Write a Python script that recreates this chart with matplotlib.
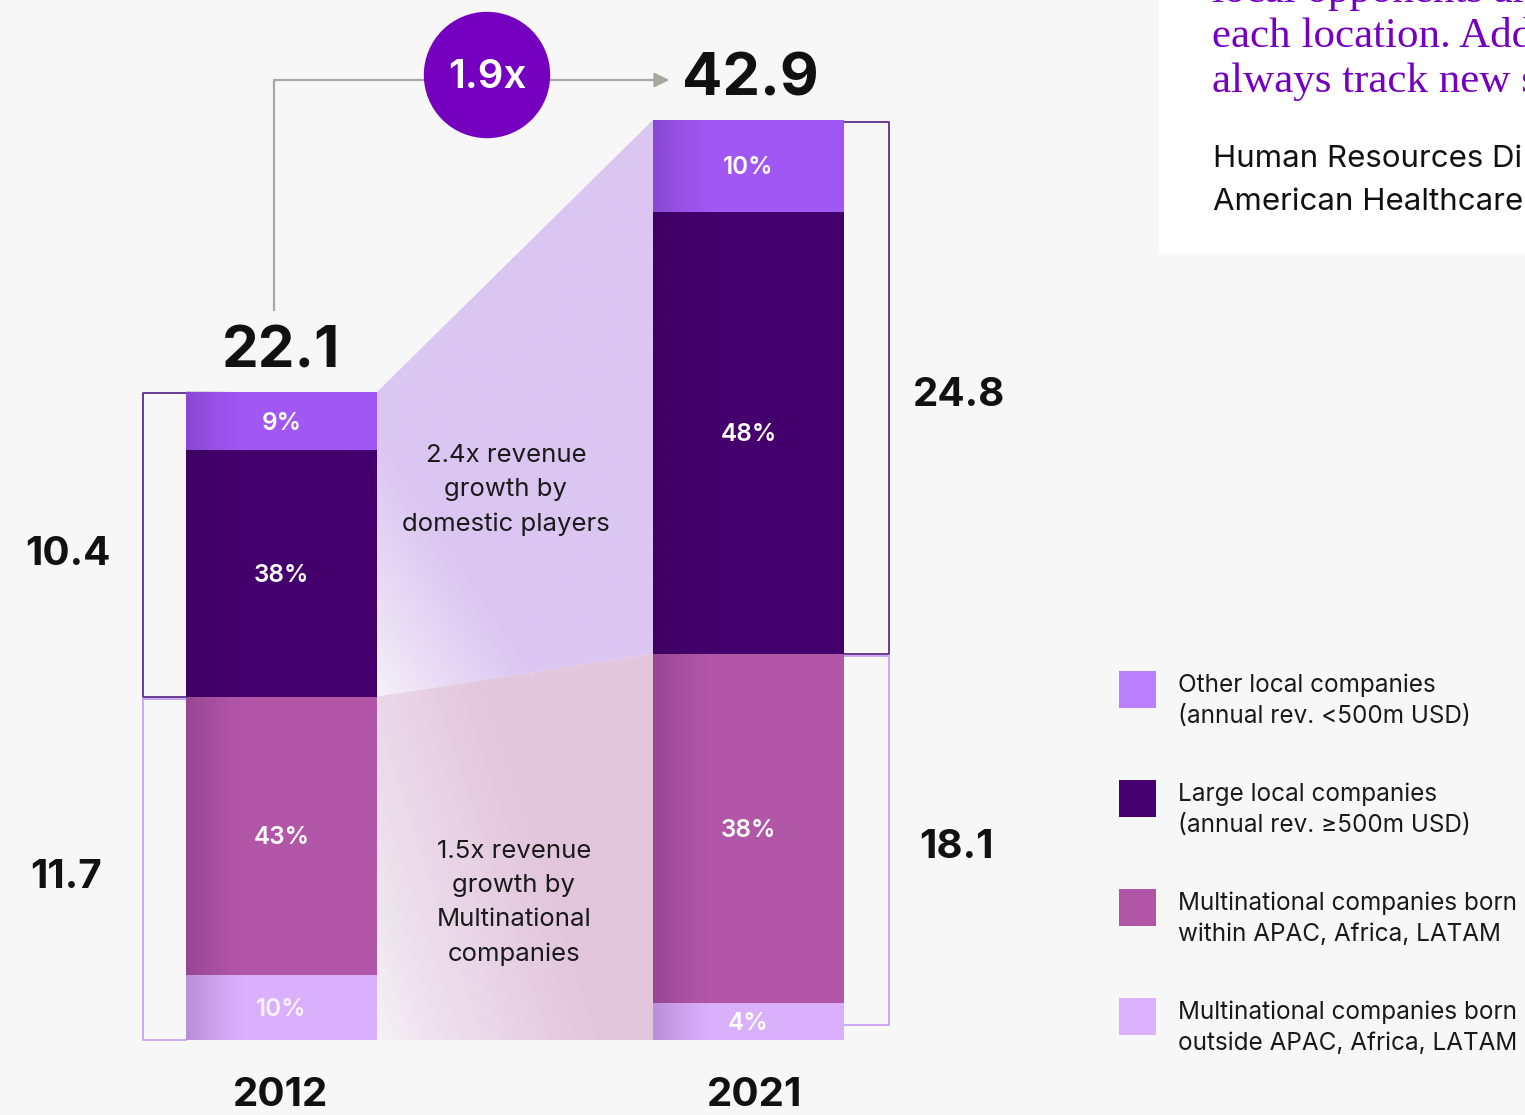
import numpy as np
import matplotlib.pyplot as plt
from matplotlib.patches import Polygon, Circle, Rectangle
from matplotlib.colors import to_rgb

# Data
years = ['2012', '2021']
totals = [22.1, 42.9]
growth_label = '1.9x'
segments = ['Multinational companies born\noutside APAC, Africa, LATAM',
            'Multinational companies born\nwithin APAC, Africa, LATAM',
            'Large local companies\n(annual rev. ≥500m USD)',
            'Other local companies\n(annual rev. <500m USD)']
shares_2012 = [10, 43, 38, 9]
shares_2021 = [4, 38, 48, 10]
domestic = [10.4, 24.8]
multinational = [11.7, 18.1]
band_notes = ['2.4x revenue\ngrowth by\ndomestic players',
              '1.5x revenue\ngrowth by\nMultinational\ncompanies']
quote_lines = ['local opponents are', 'each location. Add', 'always track new s']
source_lines = ['Human Resources Di', 'American Healthcare']

# Style / layout
bar_colors = ['#DAB0FC', '#B256A8', '#44006C', '#A157F4']
legend_colors = ['#DCB1FD', '#B155A6', '#460070', '#BB80FE']
bg = '#F7F7F7'
FONT = ['Inter', 'DejaVu Sans']
BASE = 1040
BAR_W = 191
BAR_X = [186, 653]          # left edges in px
BAR_H = [648, 920]          # drawn heights in px (source is not to scale)

fig = plt.figure(figsize=(15.25, 11.15), dpi=100, facecolor=bg)
ax = fig.add_axes([0, 0, 1, 1])
ax.set_xlim(0, 1525)
ax.set_ylim(1115, 0)
ax.axis('off')
ax.set_facecolor(bg)

# stacked bars (pixel tops/bottoms from shares)
edges = []
for i, shares in enumerate([shares_2012, shares_2021]):
    cum = np.concatenate([[0], np.cumsum(shares)]) / 100 * BAR_H[i]
    ys = BASE - cum
    edges.append(ys)
    x0 = BAR_X[i]
    for j, s in enumerate(shares):
        ax.bar(x0, -(cum[j + 1] - cum[j]), bottom=ys[j], width=BAR_W,
               align='edge', color=bar_colors[j], zorder=3)
        # darker left edge gradient
        grad = np.zeros((1, 60, 4))
        grad[..., :3] = to_rgb('#2A0040')
        grad[..., 3] = np.linspace(0.28, 0, 60) ** 1.3
        ax.imshow(grad, extent=[x0, x0 + 60, ys[j], ys[j + 1]],
                  aspect='auto', zorder=4, interpolation='bilinear')
        col = 'white' if not (i == 0 and j == 0) else '#FAF3FF'
        ax.text(x0 + BAR_W / 2, (ys[j] + ys[j + 1]) / 2 + 2, f'{s}%', color=col,
                ha='center', va='center', fontsize=17.5, fontweight='semibold',
                family=FONT, zorder=5)

e12, e21 = edges
xr, xl = BAR_X[0] + BAR_W, BAR_X[1]

# gradient bands between bars
def band(poly, color, tfunc, z=1):
    xs = np.linspace(xr, xl, 200)
    ys = np.linspace(min(p[1] for p in poly), max(p[1] for p in poly), 300)
    X, Y = np.meshgrid(xs, ys)
    t = np.clip(tfunc(X, Y), 0, 1)
    c = np.array(to_rgb(color))
    w = np.array(to_rgb('#F7F4F8'))
    img = w * (1 - t[..., None]) + c * t[..., None]
    im = ax.imshow(img, extent=[xr, xl, ys[-1], ys[0]], aspect='auto',
                   origin='upper', zorder=z, interpolation='bilinear')
    p = Polygon(poly, closed=True, facecolor='none', edgecolor='none')
    ax.add_patch(p)
    im.set_clip_path(p)

up = [(xr, e12[4]), (xl, e21[4]), (xl, e21[2]), (xr, e12[2])]
band(up, '#DBC6F2',
     lambda X, Y: ((X - xr) / 170 + (e12[2] - Y) / 260) ** 0.8)
lo = [(xr, e12[2]), (xl, e21[2]), (xl, BASE), (xr, BASE)]
band(lo, '#E2C6DC',
     lambda X, Y: ((X - xr) / 230 + (BASE - Y) / 700) ** 0.7)

ax.text(506, 490, band_notes[0], ha='center', va='center', fontsize=18.5,
        family=FONT, color='#1A1A1A', linespacing=1.62, zorder=5)
ax.text(514, 903, band_notes[1], ha='center', va='center', fontsize=18.5,
        family=FONT, color='#1A1A1A', linespacing=1.62, zorder=5)

# brackets
dark_b, light_b = '#5E2D8C', '#C9A0F5'
lx = 143
ax.plot([BAR_X[0], lx, lx, BAR_X[0]], [e12[4] + 1, e12[4] + 1, e12[2], e12[2]],
        color=dark_b, lw=1.3, zorder=2)
ax.plot([BAR_X[0], lx, lx, BAR_X[0]], [e12[2] + 2, e12[2] + 2, BASE, BASE],
        color=light_b, lw=1.3, zorder=2)
rx = 889
ax.plot([xl + BAR_W, rx, rx, xl + BAR_W], [e21[4] + 2, e21[4] + 2, e21[2], e21[2]],
        color=dark_b, lw=1.3, zorder=2)
ax.plot([xl + BAR_W, rx, rx, xl + BAR_W], [e21[2] + 2, e21[2] + 2, BASE - 15, BASE - 15],
        color=light_b, lw=1.3, zorder=2)

big = dict(ha='center', va='baseline', fontweight='bold', family=FONT,
           color='#111111', zorder=5)
ax.text(68, 565, f'{domestic[0]}', fontsize=29, **big)
ax.text(66, 888, f'{multinational[0]}', fontsize=29, **big)
ax.text(959, 406, f'{domestic[1]}', fontsize=29, **big)
ax.text(956, 858, f'{multinational[1]}', fontsize=29, **big)

# totals and growth arrow
ax.text(281, 367, f'{totals[0]}', fontsize=42, **big)
ax.text(750, 95, f'{totals[1]}', fontsize=43, **big)
gray = '#A8A8A0'
ax.plot([274, 274, 430], [310, 80, 80], color=gray, lw=1.6, zorder=2)
ax.annotate('', xy=(672, 80), xytext=(545, 80),
            arrowprops=dict(arrowstyle='-|>', color=gray, lw=1.6,
                            mutation_scale=22), zorder=2)
ax.add_patch(Circle((487, 75), 62.5, color='#7500C0', zorder=4))
ax.text(487, 78, growth_label, ha='center', va='center', fontsize=29,
        fontweight='semibold', family=FONT, color='white', zorder=5)

# year labels (cropped at the bottom in the source; keep them just inside)
yr = dict(big, va='bottom')
ax.text(281, 1114, years[0], fontsize=29, **yr)
ax.text(755, 1114, years[1], fontsize=29, **yr)

# quote box (cropped)
ax.add_patch(Rectangle((1159, -5), 400, 259, facecolor='white',
                       edgecolor='none', zorder=1))
for k, line in enumerate(quote_lines):
    ax.text(1212, 2 + 45 * k, line, ha='left', va='baseline', fontsize=31,
            family=['Liberation Serif', 'DejaVu Serif'], color='#7500C0',
            zorder=5)
for k, line in enumerate(source_lines):
    ax.text(1213, 167 + 43 * k, line, ha='left', va='baseline', fontsize=22.5,
            family=FONT, color='#111111', zorder=5)

# legend
for k, j in enumerate([3, 2, 1, 0]):
    y = 671 + 109 * k
    ax.add_patch(Rectangle((1119, y), 37, 37, facecolor=legend_colors[j],
                           edgecolor='none', zorder=5))
    ax.text(1178, y + 30, segments[j], ha='left', va='center', fontsize=17.5,
            family=FONT, color='#1A1A1A', linespacing=1.45, zorder=5)

fig.savefig('out.png', dpi=100, facecolor=bg)
